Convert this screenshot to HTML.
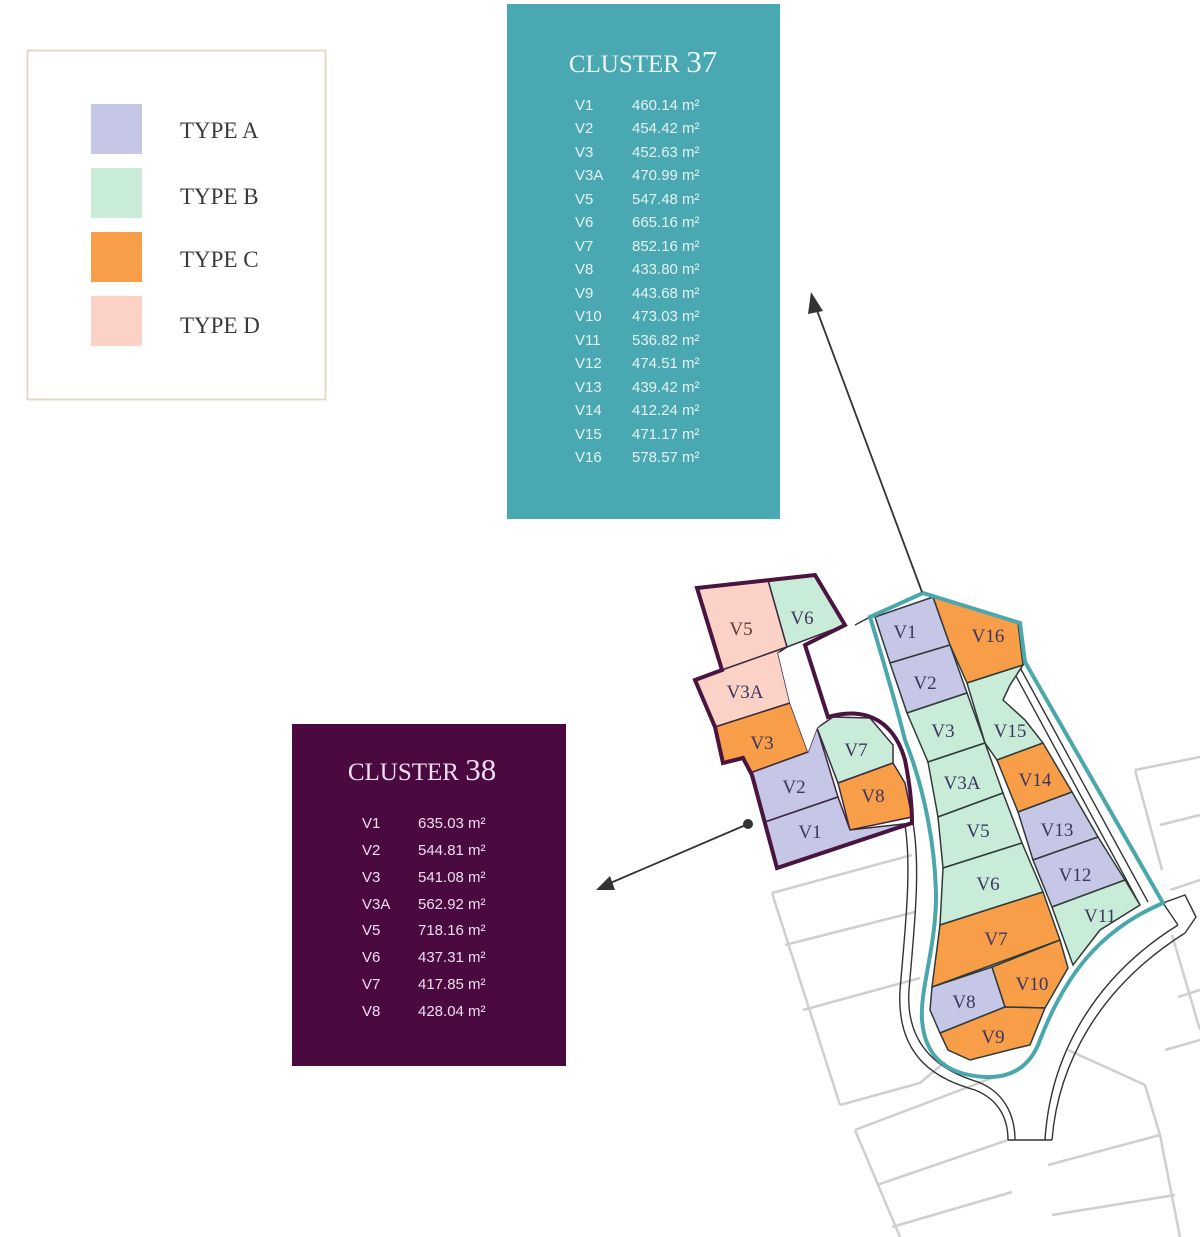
<!DOCTYPE html>
<html><head><meta charset="utf-8"><style>
html,body{margin:0;padding:0;background:#fff;}
svg{display:block;}
.lg{font-family:"Liberation Serif",serif;font-size:23px;fill:#3a3a3a;}
.t{font-family:"Liberation Serif",serif;}
.r{font-family:"Liberation Sans",sans-serif;font-size:15px;}
.pl{font-family:"Liberation Serif",serif;font-size:19px;fill:#3b3560;}
</style></head><body>
<svg width="1200" height="1237" viewBox="0 0 1200 1237" xmlns="http://www.w3.org/2000/svg">
<!-- legend -->
<rect x="27.5" y="50.5" width="298" height="349" fill="#fff" stroke="#e2dcc3" stroke-width="2"/>
<rect x="91" y="104" width="51" height="50" fill="#c6c6e6"/>
<rect x="91" y="168" width="51" height="50" fill="#c9ecd8"/>
<rect x="91" y="232" width="51" height="50" fill="#f89d48"/>
<rect x="91" y="296" width="51" height="50" fill="#fcd2c7"/>
<text class="lg" x="180" y="138">TYPE A</text>
<text class="lg" x="180" y="204">TYPE B</text>
<text class="lg" x="180" y="267">TYPE C</text>
<text class="lg" x="180" y="333">TYPE D</text>

<!-- cluster 37 box -->
<rect x="507" y="4" width="273" height="515" fill="#4aa8b2"/>
<text class="t" x="643" y="72" text-anchor="middle" fill="#eaf6f6"><tspan font-size="25">CLUSTER </tspan><tspan font-size="31">37</tspan></text>
<g class="r" fill="#e4f3f3">
<text x="575" y="110">V1</text><text x="632" y="110">460.14 m²</text>
<text x="575" y="133">V2</text><text x="632" y="133">454.42 m²</text>
<text x="575" y="157">V3</text><text x="632" y="157">452.63 m²</text>
<text x="575" y="180">V3A</text><text x="632" y="180">470.99 m²</text>
<text x="575" y="204">V5</text><text x="632" y="204">547.48 m²</text>
<text x="575" y="227">V6</text><text x="632" y="227">665.16 m²</text>
<text x="575" y="251">V7</text><text x="632" y="251">852.16 m²</text>
<text x="575" y="274">V8</text><text x="632" y="274">433.80 m²</text>
<text x="575" y="298">V9</text><text x="632" y="298">443.68 m²</text>
<text x="575" y="321">V10</text><text x="632" y="321">473.03 m²</text>
<text x="575" y="345">V11</text><text x="632" y="345">536.82 m²</text>
<text x="575" y="368">V12</text><text x="632" y="368">474.51 m²</text>
<text x="575" y="392">V13</text><text x="632" y="392">439.42 m²</text>
<text x="575" y="415">V14</text><text x="632" y="415">412.24 m²</text>
<text x="575" y="439">V15</text><text x="632" y="439">471.17 m²</text>
<text x="575" y="462">V16</text><text x="632" y="462">578.57 m²</text>
</g>

<!-- cluster 38 box -->
<rect x="292" y="724" width="274" height="342" fill="#4a0a40"/>
<text class="t" x="422" y="780" text-anchor="middle" fill="#efdcee"><tspan font-size="25">CLUSTER </tspan><tspan font-size="31">38</tspan></text>
<g class="r" fill="#efdcee">
<text x="362" y="828">V1</text><text x="418" y="828">635.03 m²</text>
<text x="362" y="855">V2</text><text x="418" y="855">544.81 m²</text>
<text x="362" y="882">V3</text><text x="418" y="882">541.08 m²</text>
<text x="362" y="909">V3A</text><text x="418" y="909">562.92 m²</text>
<text x="362" y="935">V5</text><text x="418" y="935">718.16 m²</text>
<text x="362" y="962">V6</text><text x="418" y="962">437.31 m²</text>
<text x="362" y="989">V7</text><text x="418" y="989">417.85 m²</text>
<text x="362" y="1016">V8</text><text x="418" y="1016">428.04 m²</text>
</g>

<!-- background lots (grey) -->
<g fill="none" stroke="#cfcfcf" stroke-width="2.5">
<polyline points="772,893 912,855"/>
<polyline points="772,893 840,1105"/>
<polyline points="785,945 915,912"/>
<polyline points="803,1010 920,978"/>
<polyline points="840,1105 920,1083 945,1062"/>
<polyline points="855,1130 1000,1075"/>
<polyline points="855,1130 900,1237"/>
<polyline points="877,1185 1008,1140"/>
<polyline points="892,1227 1012,1192"/>
<polyline points="1048,1165 1160,1135"/>
<polyline points="1052,1215 1175,1195"/>
<polyline points="1068,1050 1145,1085 1160,1135 1180,1237"/>
<polyline points="1135,770 1200,757"/>
<polyline points="1135,770 1162,870"/>
<polyline points="1160,825 1200,815"/>
<polyline points="1170,890 1200,880"/>
<polyline points="1172,935 1200,1030"/>
<polyline points="1178,997 1200,990"/>
<polyline points="1165,1050 1200,1040"/>
</g>

<!-- roads -->
<g fill="none" stroke="#333" stroke-width="1.4">
<path d="M905,825 C912,870 905,930 900,990 C896,1060 940,1080 975,1090 C1000,1100 1008,1120 1008,1140"/>
<path d="M913,823 C921,870 914,930 909,990 C905,1050 945,1072 978,1082 C1004,1092 1015,1115 1015,1140"/>
<path d="M1045,1140 C1050,1060 1090,980 1178,925"/>
<path d="M1052,1140 C1058,1065 1098,988 1185,933"/>
<path d="M1008,1140 L1052,1140"/>
<path d="M1178,925 L1163,903 L1185,895 L1196,917 L1185,933"/>
<path d="M855,625 L870,617"/>
<path d="M1010,665 L1140,905"/>
<path d="M1017,662 L1148,902"/>
</g>

<!-- cluster 38 plots -->
<g stroke="#3a2a40" stroke-width="1.5">
<polygon fill="#fcd2c7" points="697,588 768,580 787,647 722,670"/>
<polygon fill="#c9ecd8" points="768,580 815,575 845,625 787,647"/>
<polygon fill="#fcd2c7" points="695,680 722,670 787,647 778,653 790,703 715,727"/>
<polygon fill="#f89d48" points="715,727 790,703 808,752 750,773 743,758 723,763"/>
<polygon fill="#c6c6e6" points="750,773 808,752 817,728 838,797 765,822"/>
<polygon fill="#c9ecd8" points="817,728 833,717 870,718 893,745 893,763 838,783"/>
<polygon fill="#f89d48" points="838,783 893,763 905,783 912,817 850,830"/>
<polygon fill="#c6c6e6" points="765,822 838,797 850,830 912,823 777,868"/>
<polygon fill="#fff" stroke="none" points="778,653 805,645 828,717 817,728 808,752 790,703"/>
</g>
<path d="M697,588 L815,575 L845,625 L805,645 L828,717 C870,705 895,725 905,760 C910,785 912,805 912,823 L777,868 L752,775 L743,758 L723,763 L715,727 L695,680 L722,670 Z" fill="none" stroke="#4a1440" stroke-width="4" stroke-linejoin="miter"/>

<!-- cluster 37 plots -->
<g stroke="#2f3a3a" stroke-width="1.5">
<polygon fill="#c6c6e6" points="875,617 933,597 950,645 890,663"/>
<polygon fill="#f89d48" points="933,597 1018,623 1023,665 967,683 950,645"/>
<polygon fill="#c6c6e6" points="890,663 950,645 967,693 907,713"/>
<polygon fill="#c9ecd8" points="907,713 967,693 985,743 928,762"/>
<polygon fill="#c9ecd8" points="967,683 1023,665 1010,685 1003,700 1025,720 1043,743 997,760 985,743"/>
<polygon fill="#c9ecd8" points="928,762 985,743 1003,793 938,817"/>
<polygon fill="#f89d48" points="997,760 1043,743 1072,792 1018,812"/>
<polygon fill="#c9ecd8" points="938,817 1003,793 1022,843 943,868"/>
<polygon fill="#c6c6e6" points="1018,812 1072,792 1098,837 1033,860"/>
<polygon fill="#c9ecd8" points="943,868 1022,843 1043,892 940,925"/>
<polygon fill="#c6c6e6" points="1033,860 1098,837 1125,880 1052,907"/>
<polygon fill="#c9ecd8" points="1052,907 1125,880 1140,905 1100,930 1073,965"/>
<polygon fill="#f89d48" points="940,925 1043,892 1060,940 932,987"/>
<polygon fill="#c6c6e6" points="932,987 992,967 1005,1007 940,1033 930,1010"/>
<polygon fill="#f89d48" points="992,967 1060,940 1068,968 1045,1008 1005,1007"/>
<polygon fill="#f89d48" points="940,1033 1005,1007 1045,1008 1030,1045 1017,1048 970,1060 948,1050"/>
</g>
<path d="M870,617 L923,593 L1020,623 L1025,662 L1163,903 C1100,930 1065,975 1040,1040 C1030,1068 1010,1078 985,1077 C950,1075 925,1060 922,1020 C920,990 935,950 936,900 C936,850 925,790 905,740 C895,700 880,650 870,617 Z" fill="none" stroke="#4aa8ac" stroke-width="4"/>

<!-- plot labels -->
<g class="pl" text-anchor="middle">
<text x="741" y="635" fill="#5a3a3a">V5</text>
<text x="802" y="624">V6</text>
<text x="745" y="698">V3A</text>
<text x="762" y="749">V3</text>
<text x="856" y="756">V7</text>
<text x="794" y="793">V2</text>
<text x="873" y="802">V8</text>
<text x="810" y="838">V1</text>
<text x="905" y="638">V1</text>
<text x="988" y="642">V16</text>
<text x="925" y="689">V2</text>
<text x="943" y="737">V3</text>
<text x="1010" y="737">V15</text>
<text x="962" y="789">V3A</text>
<text x="1035" y="786">V14</text>
<text x="978" y="837">V5</text>
<text x="1057" y="836">V13</text>
<text x="988" y="890">V6</text>
<text x="1075" y="881">V12</text>
<text x="996" y="945">V7</text>
<text x="1100" y="922">V11</text>
<text x="1032" y="990">V10</text>
<text x="964" y="1008">V8</text>
<text x="993" y="1043">V9</text>
</g>

<!-- arrows -->
<g stroke="#333" stroke-width="1.8" fill="#333">
<line x1="922" y1="592" x2="815" y2="305"/>
<polygon points="811,292 823,311 808,314" stroke="none"/>
<line x1="748" y1="824" x2="608" y2="884"/>
<polygon points="596,890 610,876 615,890" stroke="none"/>
<circle cx="748" cy="824" r="5" stroke="none"/>
</g>
</svg>
</body></html>
